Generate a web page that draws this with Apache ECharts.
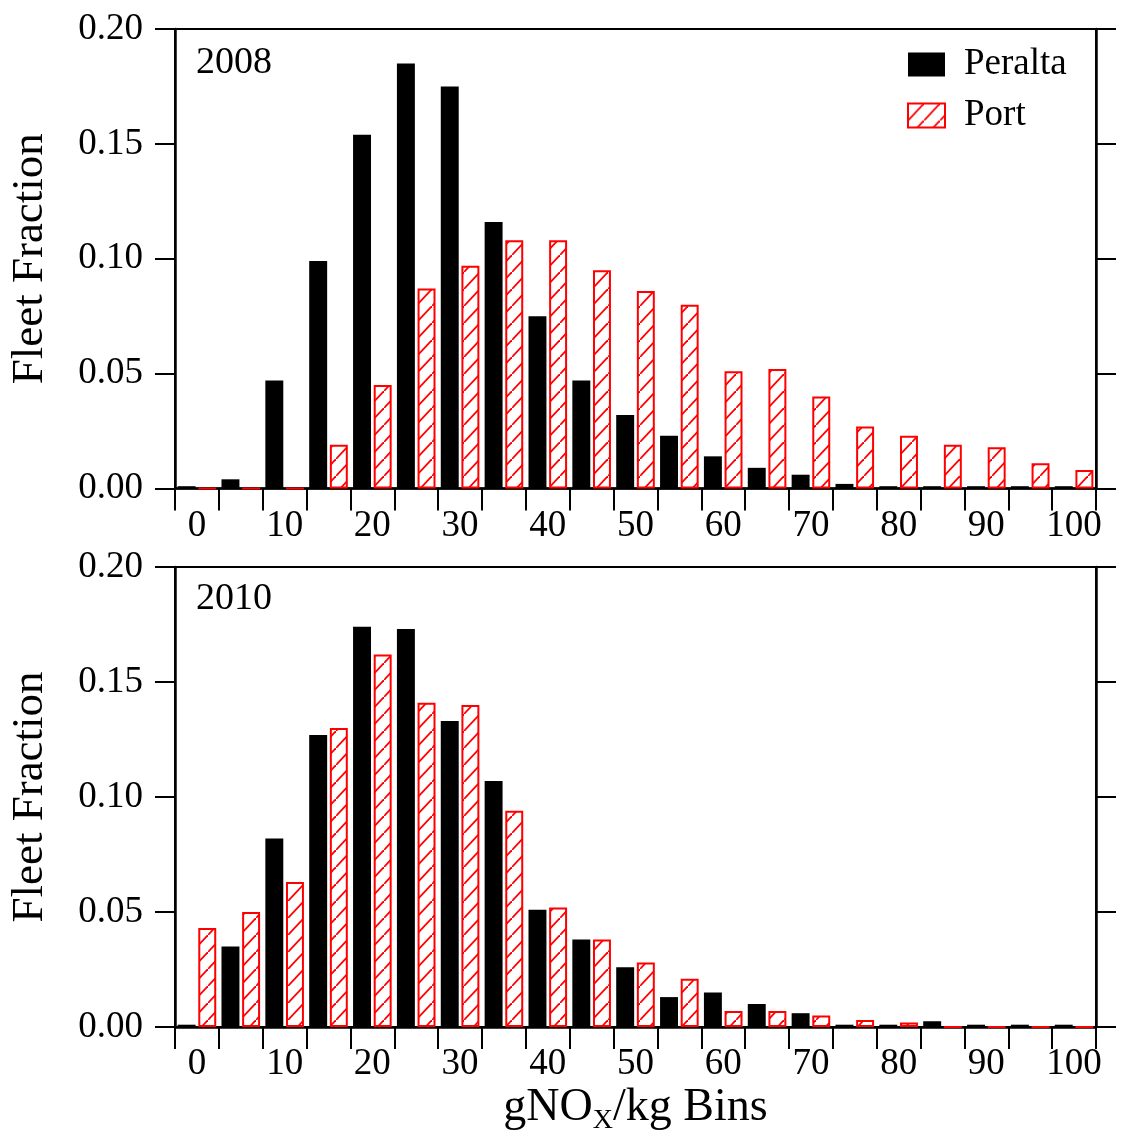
<!DOCTYPE html>
<html><head><meta charset="utf-8">
<script src="https://cdn.jsdelivr.net/npm/echarts@6/dist/echarts.min.js"></script>
<style>html,body{margin:0;padding:0;background:#fff}#c{width:1123px;height:1146px}</style>
</head><body><div id="c"></div>
<script>
// ---- data ----
const bins = ['0','5','10','15','20','25','30','35','40','45','50','55','60','65','70','75','80','85','90','95','100'];
const yTicks = [0, 0.05, 0.10, 0.15, 0.20];
const peralta2008 = [0.001,0.004,0.047,0.099,0.154,0.185,0.175,0.116,0.075,0.047,0.032,0.023,0.014,0.009,0.006,0.002,0.001,0.001,0.001,0.001,0.001];
const port2008    = [0,0,0,0.019,0.045,0.087,0.097,0.108,0.108,0.095,0.086,0.080,0.051,0.052,0.040,0.027,0.023,0.019,0.018,0.011,0.008];
const peralta2010 = [0.001,0.035,0.082,0.127,0.174,0.173,0.133,0.107,0.051,0.038,0.026,0.013,0.015,0.010,0.006,0.001,0.001,0.0025,0.001,0.001,0.001];
const port2010    = [0.043,0.050,0.063,0.130,0.162,0.141,0.140,0.094,0.052,0.038,0.028,0.021,0.007,0.007,0.005,0.003,0.002,0,0,0,0];
const panelLabels = ['2008','2010'];

// ---- style ----
const FONT = 'Liberation Serif';
function makeHatch(){
  const w = 16, h = 17;
  const c = document.createElement('canvas');
  c.width = w; c.height = h;
  const g = c.getContext('2d');
  g.fillStyle = '#fff'; g.fillRect(0,0,w,h);
  g.strokeStyle = '#ff0000'; g.lineWidth = 1.8;
  g.beginPath(); g.moveTo(-w,2*h); g.lineTo(2*w,-h); g.stroke();
  return c;
}
const hatch = {image: makeHatch(), repeat: 'repeat'};

const grids = [
  {left:174, right:27, top:29, height:459.5, show:true, borderColor:'#000', borderWidth:2},
  {left:174, right:27, top:567, height:460, show:true, borderColor:'#000', borderWidth:2}
];

function xAxis(i, withName){
  const a = {
    type:'category', gridIndex:i, data:bins, boundaryGap:true,
    axisLine:{show:true, lineStyle:{color:'#000', width:2.5}},
    axisTick:{show:true, interval:0, length:22, inside:false, lineStyle:{color:'#000', width:2}},
    axisLabel:{interval:1, margin:19, fontFamily:FONT, fontSize:37, color:'#000'},
    splitLine:{show:false}
  };
  if (withName){
    a.name = '{a|gNO}{s|X}{a|/kg Bins}';
    a.nameLocation = 'middle';
    a.nameGap = 58;
    a.nameTextStyle = {
      rich:{
        a:{fontFamily:FONT, fontSize:46, color:'#000', lineHeight:50, verticalAlign:'top', padding:[0,0,9,0]},
        s:{fontFamily:FONT, fontSize:28, color:'#000', lineHeight:28, verticalAlign:'bottom'}
      }
    };
  }
  return a;
}
function yAxis(i, right){
  return {
    type:'value', gridIndex:i, position: right ? 'right' : 'left',
    min:0, max:0.2, interval:0.05,
    name: right ? '' : 'Fleet Fraction',
    nameLocation:'middle', nameGap:122, nameRotate:90,
    nameTextStyle:{fontFamily:FONT, fontSize:45, color:'#000'},
    axisLine:{show:true, lineStyle:{color:'#000', width:2.5}},
    axisTick:{show:true, inside:false, length:20, lineStyle:{color:'#000', width:2}},
    axisLabel:{show:!right, margin:32, fontFamily:FONT, fontSize:37, color:'#000',
      formatter: v => v.toFixed(2)},
    splitLine:{show:false}
  };
}

function barPair(i, per, port){
  return [
    {name:'Peralta', type:'bar', xAxisIndex:i, yAxisIndex:i*2, data:per,
     barGap:'15%', barCategoryGap:'12%', itemStyle:{color:'#000'}},
    {name:'Port', type:'bar', xAxisIndex:i, yAxisIndex:i*2, data:port,
     barGap:'15%', barCategoryGap:'12%',
     itemStyle:{color:hatch, borderColor:'#ff0000', borderWidth:2}}
  ];
}

const chart = echarts.init(document.getElementById('c'), null, {renderer:'canvas'});
chart.setOption({
  animation:false,
  backgroundColor:'#fff',
  grid: grids,
  title: [
    {text:panelLabels[0], left:196, top:44, padding:0, textStyle:{fontFamily:FONT, fontSize:38, fontWeight:'normal', color:'#000'}},
    {text:panelLabels[1], left:196, top:580, padding:0, textStyle:{fontFamily:FONT, fontSize:38, fontWeight:'normal', color:'#000'}}
  ],
  legend: {
    data:['Peralta','Port'], orient:'vertical', left:907, top:46, padding:0,
    itemWidth:37, itemHeight:24, itemGap:14, selectedMode:false, icon:'rect',
    textStyle:{fontFamily:FONT, fontSize:37, color:'#000', padding:[0,0,0,14]}
  },
  xAxis: [xAxis(0,false), xAxis(1,true)],
  yAxis: [yAxis(0,false), yAxis(0,true), yAxis(1,false), yAxis(1,true)],
  series: [...barPair(0, peralta2008, port2008), ...barPair(1, peralta2010, port2010)]
});
</script></body></html>
